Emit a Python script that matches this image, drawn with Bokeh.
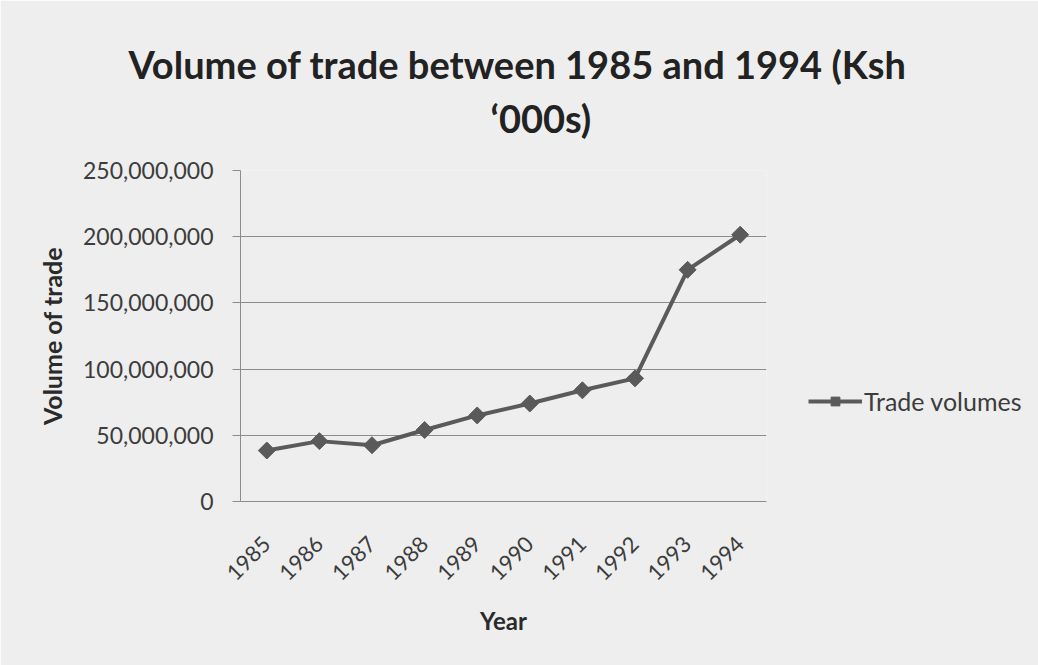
import math
from bokeh.plotting import figure
from bokeh.models import (Range1d, FixedTicker, NumeralTickFormatter, Title,
                          Legend, LegendItem)
from bokeh.embed import file_html
from bokeh.resources import INLINE

years = ["1985", "1986", "1987", "1988", "1989", "1990", "1991", "1992", "1993", "1994"]
trade_volumes = [38500000, 45600000, 42500000, 54000000, 65000000,
                 74000000, 84000000, 93000000, 175000000, 201500000]
y_ticks = [0, 50000000, 100000000, 150000000, 200000000, 250000000]
title_lines = ["Volume of trade between 1985 and 1994 (Ksh", "\u2018000s)"]

FONT = "Lato"
BG = "#eeeeee"
SERIES = "#5a5a5a"

p = figure(frame_width=526, frame_height=331, x_range=years,
           y_range=Range1d(0, 250000000),
           output_backend="svg", toolbar_location=None,
           min_border_left=240, min_border_right=272,
           min_border_top=170, min_border_bottom=164)
p.x_range.range_padding = 0
p.background_fill_color = BG
p.border_fill_color = BG
p.outline_line_color = None

line = p.line(years, trade_volumes, line_color=SERIES, line_width=4)
pts = p.scatter(years, trade_volumes, marker="square", angle=math.pi / 4, size=12,
                fill_color=SERIES, line_color=SERIES)

# grid
p.xgrid.grid_line_color = None
p.ygrid.grid_line_color = "#8c8c8c"
p.ygrid.grid_line_width = 1

# y axis
p.yaxis.ticker = FixedTicker(ticks=y_ticks)
p.yaxis.formatter = NumeralTickFormatter(format="0,0")
p.yaxis.major_tick_out = 8
p.yaxis.major_tick_in = 0
p.yaxis.minor_tick_line_color = None
p.yaxis.major_tick_line_color = "#8c8c8c"
p.yaxis.axis_line_color = "#8c8c8c"
p.yaxis.major_label_standoff = 19
p.yaxis.major_label_text_font = FONT
p.yaxis.major_label_text_font_size = "23px"
p.yaxis.major_label_text_color = "#3c3c3c"
p.yaxis.axis_label = "Volume of trade"
p.yaxis.axis_label_text_font = FONT
p.yaxis.axis_label_text_font_size = "25px"
p.yaxis.axis_label_text_font_style = "bold"
p.yaxis.axis_label_text_color = "#2a2a2a"
p.yaxis.axis_label_standoff = 13

# x axis
p.xaxis.major_label_orientation = math.pi / 4
p.xaxis.major_tick_line_color = None
p.xaxis.minor_tick_line_color = None
p.xaxis.axis_line_color = "#8c8c8c"
p.xaxis.major_label_standoff = 33
p.xaxis.major_label_text_font = FONT
p.xaxis.major_label_text_font_size = "22px"
p.xaxis.major_label_text_color = "#3c3c3c"
p.xaxis.axis_label = "Year"
p.xaxis.axis_label_text_font = FONT
p.xaxis.axis_label_text_font_size = "24px"
p.xaxis.axis_label_text_font_style = "bold"
p.xaxis.axis_label_text_color = "#2a2a2a"
p.xaxis.axis_label_standoff = 16

# title: spacer nearest the plot, then second line, then first line
p.add_layout(Title(text=" ", standoff=23, text_font_size="1px"), "above")
p.add_layout(Title(text=title_lines[1], align="left", offset=250, standoff=7,
                   text_font=FONT, text_font_style="bold", text_font_size="38px",
                   text_color="#222222"), "above")
p.add_layout(Title(text=title_lines[0], align="left", offset=-112, standoff=6,
                   text_font=FONT, text_font_style="bold", text_font_size="38px",
                   text_color="#222222"), "above")

legend = Legend(items=[LegendItem(label="Trade volumes", renderers=[line, pts])],
                location=(42, 85), background_fill_alpha=0, border_line_color=None,
                padding=0, margin=0, glyph_width=54, glyph_height=22, label_height=22,
                label_standoff=2, label_text_font=FONT, label_text_font_size="25px",
                label_text_color="#3c3c3c")
p.add_layout(legend, "right")

open("out.html", "w").write(file_html(p, INLINE))
